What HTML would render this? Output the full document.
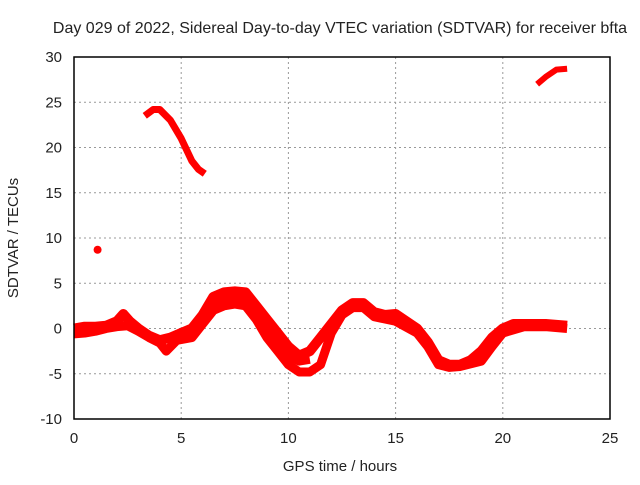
<!DOCTYPE html>
<html><head><meta charset="utf-8"><style>
body{margin:0;background:#fff;}
svg text{font-family:"Liberation Sans",sans-serif;font-size:15px;fill:#222;}
</style></head><body>
<svg id="chart" width="640" height="480" xmlns="http://www.w3.org/2000/svg">
<rect width="640" height="480" fill="#fff"/>
<text x="340" y="33" text-anchor="middle" style="font-size:16px">Day 029 of 2022, Sidereal Day-to-day VTEC variation (SDTVAR) for receiver bfta</text>
<text x="340" y="471" text-anchor="middle">GPS time / hours</text>
<text transform="translate(18,238) rotate(-90)" text-anchor="middle">SDTVAR / TECUs</text>
<g id="grid"></g><g id="marks"></g>
<rect x="74" y="57" width="536" height="362" fill="none" stroke="#000" stroke-width="1.5"/>
</svg>
<script>
const xTicks=[0,5,10,15,20,25];
const yTicks=[-10,-5,0,5,10,15,20,25,30];
const upperT=[0,0.5,1,1.5,2,2.3,2.6,3,3.5,4,4.5,5,5.5,6,6.5,7,7.5,8,8.5,9,9.5,10,10.5,11,11.5,12,12.5,13,13.5,14,14.5,15,15.5,16,16.5,17,17.5,18,18.5,19,19.5,20,20.5,21,22,23];
const upperV=[0,0.2,0.2,0.3,0.8,1.6,0.8,0,-0.8,-1.3,-1,-0.5,0,1.5,3.5,4,4.1,4,2.5,1,-0.5,-2,-3,-2.5,-1,0.5,2,2.8,2.8,1.8,1.5,1.6,0.8,0,-1.5,-3.5,-4,-4,-3.5,-2.5,-1,0,0.5,0.5,0.5,0.3];
const lowerT=[0,0.5,1,1.5,2,2.5,3,3.5,4,4.3,4.8,5.5,6,6.5,7,7.5,8,8.5,9,9.5,10,10.5,11,11.5,12,12.5,13,13.5,14,15,16,16.5,17,17.5,18,19,19.5,20,21,22,23];
const lowerV=[-0.6,-0.5,-0.3,0,0.2,0.3,-0.3,-1,-1.6,-2.5,-1.3,-1,0.5,2,2.5,2.7,2.5,1,-1,-2.5,-4,-4.8,-4.8,-4,-0.5,1.5,2.3,2.3,1.3,0.8,-0.5,-2,-4,-4.3,-4.2,-3.6,-2,-0.5,0.2,0.2,0];
const midT=[6,6.5,7,7.5,8,8.5,9,9.5,10,10.5,11];
const midV=[1,2.8,3.2,3.4,3.2,1.8,0,-1.5,-3,-3.6,-3.4];
const arcT=[3.3,3.7,4,4.5,5,5.5,5.8,6.1];
const arcV=[23.5,24.2,24.2,23,21,18.5,17.6,17.1];
const lateT=[21.6,22,22.5,23];
const lateV=[27,27.8,28.6,28.7];
const dotT=[1.1];
const dotV=[8.7];
const X=t=>74+t*(536/25), Y=v=>419-(v+10)*(362/40);
const NS="http://www.w3.org/2000/svg";
const g=document.getElementById('grid'), m=document.getElementById('marks'), svg=document.getElementById('chart');
xTicks.forEach(t=>{
 if(t>0&&t<25){const l=document.createElementNS(NS,'line');
 
 
 l.setAttribute('x1',X(t));l.setAttribute('x2',X(t));l.setAttribute('y1',57);l.setAttribute('y2',419);
 l.setAttribute('stroke','#999');l.setAttribute('stroke-dasharray','2,3');g.appendChild(l);}
 const tx=document.createElementNS(NS,'text');
 
 
 tx.setAttribute('x',X(t));tx.setAttribute('y',443);tx.setAttribute('text-anchor','middle');tx.textContent=t;svg.appendChild(tx);
});
yTicks.forEach(v=>{
 if(v>-10&&v<30){const l=document.createElementNS(NS,'line');
 
 
 l.setAttribute('x1',74);l.setAttribute('x2',610);l.setAttribute('y1',Y(v));l.setAttribute('y2',Y(v));
 l.setAttribute('stroke','#999');l.setAttribute('stroke-dasharray','2,3');g.appendChild(l);}
 const tx=document.createElementNS(NS,'text');
 
 
 tx.setAttribute('x',62);tx.setAttribute('y',Y(v)+5);tx.setAttribute('text-anchor','end');tx.textContent=v;svg.appendChild(tx);
});
function trace(ts,vs,name,w){
 const p=document.createElementNS(NS,'polyline');
 
 
 p.setAttribute('points',ts.map((t,i)=>X(t)+','+Y(vs[i])).join(' '));
 p.setAttribute('fill','none');p.setAttribute('stroke','#f00');p.setAttribute('stroke-width',w);
 p.setAttribute('stroke-linejoin','round');p.setAttribute('stroke-linecap','butt');m.appendChild(p);
}
trace(upperT,upperV,'sdtvar-upper-trace',10);
trace(lowerT,lowerV,'sdtvar-lower-trace',9);
trace(midT,midV,'sdtvar-middle-trace',9);
trace(arcT,arcV,'sdtvar-arc-trace',7);
trace(lateT,lateV,'sdtvar-late-trace',6);
dotT.forEach((t,i)=>{const c=document.createElementNS(NS,'circle');
 
 
 c.setAttribute('cx',X(t));c.setAttribute('cy',Y(dotV[i]));c.setAttribute('r',4);c.setAttribute('fill','#f00');m.appendChild(c);});
</script>
</body></html>
